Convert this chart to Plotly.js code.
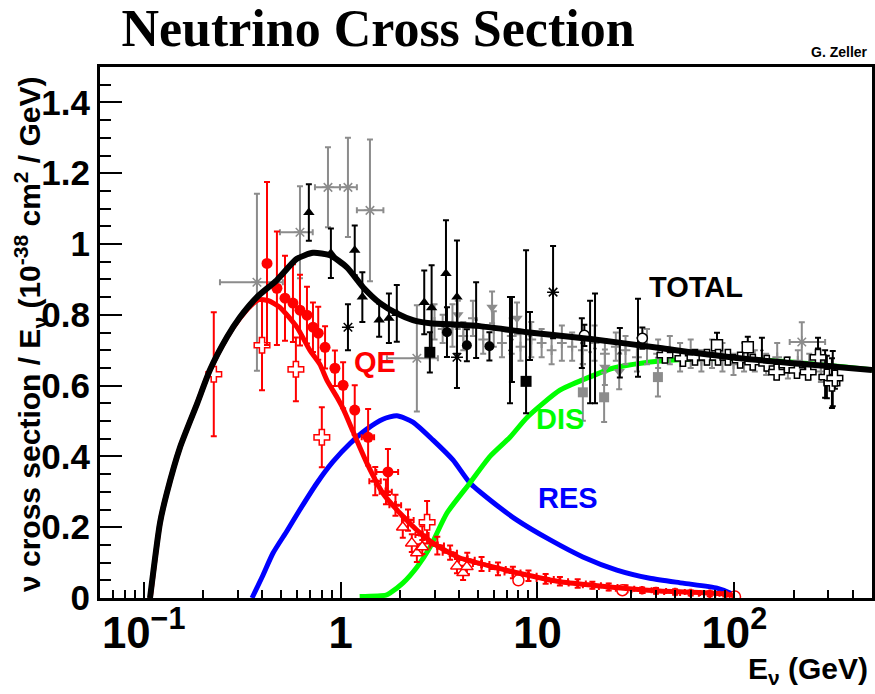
<!DOCTYPE html>
<html><head><meta charset="utf-8">
<script src="https://cdn.plot.ly/plotly-3.0.1.min.js"></script>
<style>html,body{margin:0;padding:0;background:#fff;} #chart{width:875px;height:694px;}</style>
</head><body><div id="chart"></div>
<script>
// ---------- model curves (E in GeV, sigma/E in 1e-38 cm^2/GeV) ----------
const totE = [0.1077, 0.121, 0.131, 0.153, 0.187, 0.217, 0.265, 0.308, 0.376, 0.475, 0.600, 0.724, 0.884, 1.077, 1.30, 1.585, 1.93, 2.33, 2.85, 4.04, 5.1, 8.85, 19.1, 41.9, 107, 344, 500];
const totV = [0, 0.212, 0.296, 0.426, 0.55, 0.644, 0.737, 0.793, 0.85, 0.898, 0.958, 0.975, 0.968, 0.934, 0.878, 0.833, 0.804, 0.785, 0.776, 0.772, 0.768, 0.751, 0.731, 0.706, 0.677, 0.652, 0.644];

const qeE = [0.108, 0.121, 0.131, 0.153, 0.187, 0.217, 0.265, 0.308, 0.35, 0.385, 0.43, 0.492, 0.60, 0.698, 0.785, 0.853, 0.959, 1.03, 1.157, 1.36, 1.64, 2.0, 2.44, 2.95, 3.59, 4.04, 5.95, 8.85, 13.0, 19.1, 28.2, 41.6, 61.4, 90.6, 100];
const qeV = [0, 0.212, 0.296, 0.426, 0.55, 0.644, 0.737, 0.79, 0.826, 0.843, 0.84, 0.821, 0.765, 0.700, 0.66, 0.615, 0.567, 0.535, 0.47, 0.381, 0.296, 0.24, 0.192, 0.155, 0.127, 0.113, 0.088, 0.065, 0.046, 0.036, 0.027, 0.020, 0.016, 0.011, 0.006];

const resE = [0.355, 0.40, 0.454, 0.535, 0.622, 0.759, 0.915, 1.12, 1.36, 1.64, 1.93, 2.33, 2.95, 3.72, 4.54, 5.74, 7.87, 11.6, 17.0, 25.3, 37.2, 54.8, 81.6, 94.8, 100];
const resV = [0, 0.06, 0.127, 0.19, 0.25, 0.325, 0.385, 0.437, 0.477, 0.505, 0.515, 0.497, 0.446, 0.390, 0.325, 0.277, 0.220, 0.164, 0.116, 0.079, 0.056, 0.042, 0.028, 0.014, 0.004];

const disE = [1.25, 1.7, 1.78, 2.07, 2.44, 2.85, 3.47, 4.54, 5.74, 7.25, 8.85, 13.0, 17.8, 24.1, 34.3, 50, 100, 200, 500];
const disV = [0.004, 0.008, 0.014, 0.042, 0.087, 0.144, 0.24, 0.325, 0.40, 0.454, 0.51, 0.587, 0.621, 0.649, 0.664, 0.672, 0.676, 0.666, 0.645];

// ---------- QE data (red) ----------
const qeCircE = [0.423, 0.475, 0.522, 0.573, 0.622, 0.675, 0.724, 0.77, 0.834, 0.936, 1.03, 1.18, 1.38, 1.74];
const qeCircV = [0.945, 0.875, 0.847, 0.833, 0.813, 0.799, 0.765, 0.748, 0.708, 0.649, 0.601, 0.531, 0.454, 0.356];
const qeCircErr = [0.23, 0.16, 0.12, 0.11, 0.10, 0.08, 0.07, 0.075, 0.06, 0.05, 0.065, 0.07, 0.08, 0.065];
const qeCircErrX = [0, 0, 0, 0, 0, 0, 0, 0, 0, 0, 0, 0, 0.1, 0.22];

const qeCrossE = [0.227, 0.399, 0.593, 0.803, 2.75];
const qeCrossV = [0.632, 0.714, 0.646, 0.454, 0.214];
const qeCrossErr = [0.175, 0.127, 0.09, 0.085, 0.06];

const qeTriE = [2.07, 2.30, 2.44, 2.6, 3.9, 4.19, 4.38];
const qeTriV = [0.20, 0.155, 0.127, 0.144, 0.09, 0.071, 0.088];
const qeTriErr = [0.03, 0.025, 0.025, 0.02, 0.02, 0.02, 0.02];

const qeSmallE = [1.5, 1.7, 1.9, 2.2, 2.6, 3.1, 3.6, 4.4, 5.2, 6.3, 7.5, 9, 11, 13, 16, 19, 23, 28, 34, 40, 50, 60, 75, 90];
const qeSmallV = [0.33, 0.30, 0.262, 0.22, 0.178, 0.148, 0.128, 0.108, 0.096, 0.082, 0.072, 0.063, 0.054, 0.047, 0.041, 0.036, 0.031, 0.026, 0.022, 0.02, 0.017, 0.014, 0.012, 0.01];
const qeSmallErr = [0.04, 0.035, 0.03, 0.03, 0.025, 0.025, 0.02, 0.02, 0.02, 0.018, 0.016, 0.015, 0.014, 0.012, 0.012, 0.01, 0.01, 0.01, 0.008, 0.008, 0.008, 0.007, 0.007, 0.006];
const qeSmallErrX = [0.1, 0.12, 0.13, 0.15, 0.2, 0.25, 0.3, 0.4, 0.5, 0.6, 0.7, 0.9, 1.1, 1.3, 1.6, 2, 2.5, 3, 4, 5, 6, 7, 9, 10];

const qeRingE = [8.0, 27, 100.7];
const qeRingV = [0.05, 0.022, 0.004];

// ---------- total cross-section data (black / gray) ----------
const grayStarE = [0.376, 0.622, 0.863, 1.09, 1.41, 2.44, 220];
const grayStarV = [0.892, 1.033, 1.160, 1.160, 1.095, 0.677, 0.723];
const grayStarErr = [0.25, 0.13, 0.113, 0.14, 0.20, 0.15, 0.056];
const grayStarErrXp = [0.133, 0.10, 0.13, 0.12, 0.24, 0.68, 69];
const grayStarErrXm = [0.132, 0.13, 0.122, 0.097, 0.2, 0.72, 29];

const blkTriE = [0.690, 0.893, 1.18, 1.29, 1.57, 1.76, 1.93, 2.66, 2.9, 3.43, 3.9];
const blkTriV = [1.089, 0.974, 0.982, 0.850, 0.785, 0.790, 0.804, 0.835, 0.82, 0.917, 0.85];
const blkTriErr = [0.08, 0.07, 0.07, 0.07, 0.047, 0.07, 0.08, 0.09, 0.12, 0.15, 0.16];

const blkStarE = [1.09, 3.9, 12.0];
const blkStarV = [0.765, 0.680, 0.864];
const blkStarErr = [0.065, 0.087, 0.13];

const blkSqE = [2.84, 8.75];
const blkSqV = [0.694, 0.612];
const blkSqErrP = [0.057, 0.37];
const blkSqErrM = [0.057, 0.09];

const blkCircE = [3.47, 4.38, 5.7];
const blkCircV = [0.751, 0.714, 0.711];
const blkCircErr = [0.07, 0.045, 0.04];

const blkBarE = [4.88, 7.25, 7.42, 9.16, 16.8, 18.5, 19.6, 26.2, 32.4, 138, 266, 289, 316];
const blkBarV = [0.785, 0.70, 0.73, 0.74, 0.72, 0.695, 0.705, 0.693, 0.735, 0.70, 0.70, 0.633, 0.62];
const blkBarErr = [0.107, 0.15, 0.12, 0.068, 0.07, 0.145, 0.155, 0.07, 0.11, 0.035, 0.035, 0.067, 0.078];

const blkOpenE = [44.4, 54.8, 63.1, 72.6, 82.6, 92.7, 107, 124, 146, 164, 185, 208, 237, 266, 295, 313, 324];
const blkOpenV = [0.686, 0.677, 0.68, 0.68, 0.68, 0.68, 0.672, 0.666, 0.663, 0.638, 0.658, 0.643, 0.638, 0.68, 0.624, 0.607, 0.621];
const blkOpenErr = [0.02, 0.02, 0.02, 0.02, 0.02, 0.02, 0.02, 0.02, 0.02, 0.02, 0.02, 0.02, 0.02, 0.025, 0.06, 0.07, 0.03];

const blkBoxE = [81.6, 117];
const blkBoxV = [0.714, 0.708];
const blkRingE = [17.3, 34.1];
const blkRingV = [0.742, 0.734];

const grayTriE = [3.94, 5.88, 7.87, 22.0, 26];
const grayTriV = [0.80, 0.821, 0.79, 0.652, 0.64];
const grayTriErr = [0.04, 0.045, 0.045, 0.05, 0.05];

const graySqE = [17.0, 21.8, 40.9];
const graySqV = [0.581, 0.567, 0.624];
const graySqErr = [0.08, 0.07, 0.055];

const grayPtE = [3.0, 3.3, 3.7, 4.2, 4.7, 5.3, 6.0, 6.6, 7.4, 8.2, 9.3, 10.5, 11.8, 13.3, 15, 17, 19.5, 22, 25, 28, 32, 36, 41, 47, 53, 60, 68, 77, 87, 99, 112, 127, 145, 165, 187, 210, 240, 275];
const grayPtV = [0.78, 0.76, 0.77, 0.74, 0.79, 0.73, 0.76, 0.72, 0.74, 0.71, 0.73, 0.72, 0.70, 0.72, 0.71, 0.70, 0.72, 0.69, 0.71, 0.70, 0.68, 0.71, 0.69, 0.70, 0.68, 0.69, 0.67, 0.69, 0.68, 0.66, 0.68, 0.67, 0.66, 0.68, 0.65, 0.67, 0.66, 0.64];
const grayPtErr = [0.05, 0.04, 0.06, 0.04, 0.05, 0.04, 0.05, 0.04, 0.05, 0.04, 0.05, 0.04, 0.04, 0.05, 0.04, 0.04, 0.05, 0.04, 0.04, 0.04, 0.04, 0.05, 0.04, 0.04, 0.04, 0.04, 0.03, 0.04, 0.04, 0.03, 0.04, 0.03, 0.03, 0.04, 0.03, 0.03, 0.03, 0.03];

// ---------- styling helpers ----------
const RED = '#ff0000', BLUE = '#0000ff', GREEN = '#00ff00', BLACK = '#000000', GRAY = '#8c8c8c';

function pts(x, y, o) {
  const t = {
    type: 'scatter', mode: 'markers', x: x, y: y, showlegend: false, hoverinfo: 'skip',
    marker: {symbol: o.symbol, size: o.size, color: o.fill || o.color,
             line: {color: o.color, width: o.lw === undefined ? 0 : o.lw}},
  };
  if (o.ey) {
    t.error_y = {type: 'data', array: o.ey, color: o.color, thickness: 2, width: 3};
    if (o.eym) { t.error_y.symmetric = false; t.error_y.arrayminus = o.eym; }
  }
  if (o.ex) {
    t.error_x = {type: 'data', array: o.ex, color: o.color, thickness: 2, width: 3};
    if (o.exm) { t.error_x.symmetric = false; t.error_x.arrayminus = o.exm; }
  }
  return t;
}
function curve(x, y, color, w) {
  return {type: 'scatter', mode: 'lines', x: x, y: y, showlegend: false, hoverinfo: 'skip',
          line: {color: color, width: w, shape: 'spline', smoothing: 0.6}};
}

const traces = [
  curve(resE, resV, BLUE, 5),
  curve(disE, disV, GREEN, 5),
  pts(grayPtE, grayPtV, {symbol: 'cross-thin-open', size: 7, color: GRAY, lw: 2, ey: grayPtErr}),
  pts(grayStarE, grayStarV, {symbol: 'asterisk-open', size: 10, color: GRAY, lw: 1.5, ey: grayStarErr, ex: grayStarErrXp, exm: grayStarErrXm}),
  pts(grayTriE, grayTriV, {symbol: 'triangle-down', size: 10, color: GRAY, ey: grayTriErr}),
  pts(graySqE, graySqV, {symbol: 'square', size: 10, color: GRAY, ey: graySqErr}),
  pts(blkBarE, blkBarV, {symbol: 'circle', size: 3, color: BLACK, ey: blkBarErr}),
  pts(blkTriE, blkTriV, {symbol: 'triangle-up', size: 10, color: BLACK, ey: blkTriErr}),
  pts(blkStarE, blkStarV, {symbol: 'asterisk-open', size: 10, color: BLACK, lw: 1.5, ey: blkStarErr}),
  pts(blkSqE, blkSqV, {symbol: 'square', size: 11, color: BLACK, ey: blkSqErrP, eym: blkSqErrM}),
  pts(blkCircE, blkCircV, {symbol: 'circle', size: 10, color: BLACK, ey: blkCircErr}),
  pts(blkBoxE, blkBoxV, {symbol: 'square', size: 11, color: BLACK, fill: 'white', lw: 1.5, ey: [0.035, 0.03]}),
  pts(blkRingE, blkRingV, {symbol: 'circle', size: 10, color: BLACK, fill: 'white', lw: 1.5, ey: [0.03, 0.03]}),
  pts(blkOpenE, blkOpenV, {symbol: 'cross', size: 13, color: BLACK, fill: 'white', lw: 1.5, ey: blkOpenErr}),
  pts(qeSmallE, qeSmallV, {symbol: 'cross', size: 7, color: RED, ey: qeSmallErr, ex: qeSmallErrX}),
  pts(qeTriE, qeTriV, {symbol: 'triangle-up', size: 11, color: RED, fill: 'white', lw: 1.5, ey: qeTriErr}),
  pts(qeRingE, qeRingV, {symbol: 'circle', size: 11, color: RED, fill: 'white', lw: 1.5}),
  pts(qeCrossE, qeCrossV, {symbol: 'cross', size: 13, color: RED, fill: 'white', lw: 1.5, ey: qeCrossErr}),
  pts(qeCircE, qeCircV, {symbol: 'circle', size: 11, color: RED, ey: qeCircErr, ex: qeCircErrX}),
  curve(qeE, qeV, RED, 5),
  curve(totE, totV, BLACK, 6),
];

const SANS = 'Liberation Sans, Arial, sans-serif';
const tickFont = {family: SANS, size: 35, color: 'black', weight: 700};
const labFont = (c) => ({family: SANS, size: 29, color: c, weight: 700});

const layout = {
  width: 875, height: 694,
  margin: {l: 100, r: 3, t: 67, b: 96},
  paper_bgcolor: 'white', plot_bgcolor: 'white',
  showlegend: false,
  title: {text: 'Neutrino Cross Section', xref: 'container', yref: 'container',
          x: 0.432, xanchor: 'center', y: 0.96, yanchor: 'middle',
          font: {family: 'Liberation Serif, Times New Roman, serif', size: 52, color: 'black', weight: 700}},
  xaxis: {type: 'log', range: [Math.log10(0.06), Math.log10(500)],
          showgrid: false, zeroline: false, showline: true, linecolor: 'black', linewidth: 3, mirror: true,
          ticks: 'inside', ticklen: 16, tickwidth: 2, tickcolor: 'black',
          dtick: 1, tick0: 0, exponentformat: 'power', ticklabelstandoff: -4,
          minor: {ticks: 'inside', ticklen: 8, tickwidth: 2, tickcolor: 'black', dtick: 'D1', showgrid: false},
          tickfont: tickFont},
  yaxis: {range: [0, 1.5], showgrid: false, zeroline: false, showline: true, linecolor: 'black', linewidth: 3, mirror: true,
          ticks: 'inside', ticklen: 22, tickwidth: 2, tickcolor: 'black', dtick: 0.2, tick0: 0,
          ticklabelstandoff: 0,
          minor: {ticks: 'inside', ticklen: 11, tickwidth: 2, tickcolor: 'black', dtick: 0.05, showgrid: false},
          tickfont: tickFont},
  annotations: [
    {text: 'ν cross section / E<sub>ν</sub> (10<sup>-38</sup> cm<sup>2</sup> / GeV)', xref: 'paper', yref: 'paper',
     x: -0.0907, y: 0.497, xanchor: 'center', yanchor: 'middle', textangle: -90, showarrow: false,
     font: {family: SANS, size: 30, color: 'black', weight: 700}},
    {text: 'G. Zeller', xref: 'paper', yref: 'paper', x: 0.997, y: 1.028, xanchor: 'right', yanchor: 'middle', showarrow: false,
     font: {family: 'Liberation Sans Narrow, Liberation Sans, Arial, sans-serif', size: 14, color: 'black', weight: 700}},
    {text: 'QE', xref: 'paper', yref: 'paper', x: 0.356, y: 0.444, showarrow: false, font: labFont(RED)},
    {text: 'DIS', xref: 'paper', yref: 'paper', x: 0.596, y: 0.303, showarrow: false, font: labFont(GREEN)},
    {text: 'RES', xref: 'paper', yref: 'paper', x: 0.606, y: 0.154, showarrow: false, font: labFont(BLUE)},
    {text: 'TOTAL', xref: 'paper', yref: 'paper', x: 0.835, y: 0.586, showarrow: false, font: labFont(BLACK)},
    {text: 'E<sub>ν</sub> (GeV)', xref: 'paper', yref: 'paper', x: 0.997, y: -0.175, xanchor: 'right', yanchor: 'bottom', showarrow: false,
     font: {family: SANS, size: 30, color: 'black', weight: 700}},
  ],
};

Plotly.newPlot('chart', traces, layout, {displayModeBar: false, staticPlot: true});
</script>
</body></html>
